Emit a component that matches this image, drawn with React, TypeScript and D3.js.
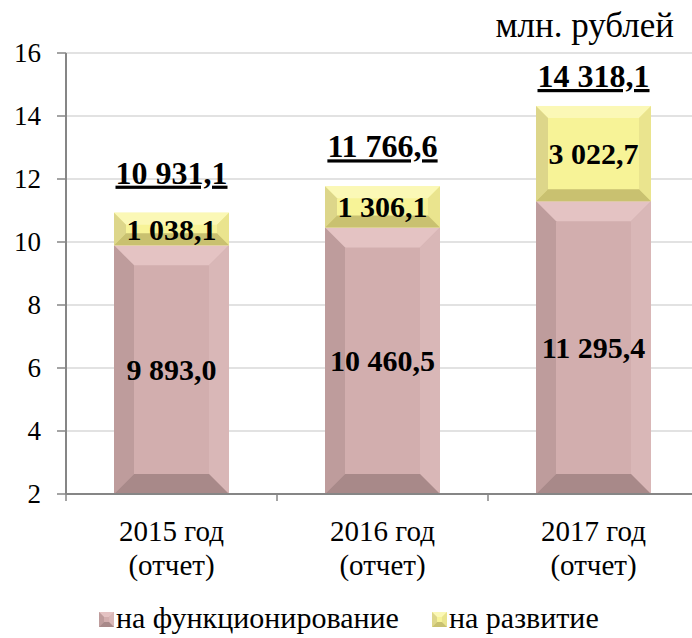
import React from "react";
import * as d3 from "d3";

const categories = ["2015 год|(отчет)", "2016 год|(отчет)", "2017 год|(отчет)"];
const functioning = [9893.0, 10460.5, 11295.4];
const development = [1038.1, 1306.1, 3022.7];
const totals = [10931.1, 11766.6, 14318.1];
const yTicks = [2, 4, 6, 8, 10, 12, 14, 16];
const seriesNames = ["на функционирование", "на развитие"];
const unitLabel = "млн. рублей";

const W = 692;
const H = 638;
const FONT = '"Liberation Serif", "DejaVu Serif", serif';

const fmt = (v: number) => {
  const [i, f] = v.toFixed(1).split(".");
  const withSp = i.replace(/\B(?=(\d{3})+(?!\d))/g, " ");
  return withSp + "," + f;
};

type Pal = { main: string; top: string; left: string; right: string; bottom: string };
const pink: Pal = { main: "#D2AEAE", top: "#E4C3C3", left: "#BE9C9C", right: "#D9B7B7", bottom: "#A88989" };
const yellow: Pal = { main: "#F7F397", top: "#FBF8B6", left: "#DDD68A", right: "#EAE48E", bottom: "#C9C170" };

function Bevel({ x, y, w, h, pal, b }: { x: number; y: number; w: number; h: number; pal: Pal; b: number }) {
  const bb = Math.min(b, h / 2.2, w / 2.2);
  const x1 = x + w, y1 = y + h;
  return (
    <g>
      <rect x={x} y={y} width={w} height={h} fill={pal.main} />
      <polygon points={`${x},${y} ${x1},${y} ${x1 - bb},${y + bb} ${x + bb},${y + bb}`} fill={pal.top} />
      <polygon points={`${x},${y} ${x + bb},${y + bb} ${x + bb},${y1 - bb} ${x},${y1}`} fill={pal.left} />
      <polygon points={`${x1},${y} ${x1},${y1} ${x1 - bb},${y1 - bb} ${x1 - bb},${y + bb}`} fill={pal.right} />
      <polygon points={`${x},${y1} ${x + bb},${y1 - bb} ${x1 - bb},${y1 - bb} ${x1},${y1}`} fill={pal.bottom} />
    </g>
  );
}

export default function App() {
  const x = d3.scaleBand<string>().domain(categories).range([66, 699]).paddingInner(0.455).paddingOuter(0.2275);
  const y = d3.scaleLinear().domain([2, 16]).range([494, 53]);
  const bw = x.bandwidth();
  const bounds = [66, ...categories.map((c) => (x(c) as number) + bw + (x.step() - bw) / 2)];
  const ts: React.CSSProperties = { fontFamily: FONT };

  return (
    <div style={{ position: "fixed", left: 0, top: 0 }}>
      <svg width={W} height={H} style={{ display: "block", background: "#fff", fontFamily: FONT }}>
        <text x={674} y={37} textAnchor="end" fontSize={35} fill="#000" style={ts}>{unitLabel}</text>
        {yTicks.map((t) => (
          <g key={t}>
            {t > 2 && <line x1={66} x2={692} y1={y(t)} y2={y(t)} stroke="#d9d9d9" strokeWidth={1.5} />}
            <line x1={57} x2={66} y1={y(t)} y2={y(t)} stroke="#868686" strokeWidth={1.5} />
            <text x={41} y={y(t)} dy="0.35em" textAnchor="end" fontSize={27} fill="#000" style={ts}>{t}</text>
          </g>
        ))}
        {categories.map((c, i) => {
          const bx = x(c) as number;
          const f = functioning[i] / 1000;
          const d = development[i] / 1000;
          const yF = y(f);
          const yD = y(f + d);
          const cx = bx + bw / 2;
          const totalBase = Math.max(y(totals[i] / 1000) - 29, 87);
          const [l1, l2] = c.split("|");
          return (
            <g key={c}>
              <Bevel x={bx} y={yF} w={bw} h={y(2) - yF} pal={pink} b={20} />
              <Bevel x={bx} y={yD} w={bw} h={yF - yD} pal={yellow} b={12} />
              <text x={cx} y={(yF + y(2)) / 2} dy="0.35em" textAnchor="middle" fontSize={30} fontWeight="bold" style={ts}>{fmt(functioning[i])}</text>
              <text x={cx} y={(yF + yD) / 2} dy="0.35em" textAnchor="middle" fontSize={30} fontWeight="bold" style={ts}>{fmt(development[i])}</text>
              <text x={cx} y={totalBase} textAnchor="middle" fontSize={32} fontWeight="bold" textDecoration="underline" style={ts}>{fmt(totals[i])}</text>
              <text x={cx} y={541} textAnchor="middle" fontSize={29} style={ts}>{l1}</text>
              <text x={cx} y={575} textAnchor="middle" fontSize={29} style={ts}>{l2}</text>
            </g>
          );
        })}
        <line x1={66} x2={66} y1={53} y2={494} stroke="#868686" strokeWidth={2} />
        <line x1={66} x2={699} y1={494} y2={494} stroke="#868686" strokeWidth={2} />
        {bounds.map((b, i) => (
          <line key={i} x1={b} x2={b} y1={494} y2={501} stroke="#868686" strokeWidth={1.5} />
        ))}
        <g>
          <Bevel x={99} y={612} w={15} h={15} pal={pink} b={5} />
          <text x={116} y={628} fontSize={30} style={ts}>{seriesNames[0]}</text>
          <Bevel x={432} y={612} w={15} h={15} pal={yellow} b={5} />
          <text x={449} y={628} fontSize={30} style={ts}>{seriesNames[1]}</text>
        </g>
      </svg>
    </div>
  );
}
